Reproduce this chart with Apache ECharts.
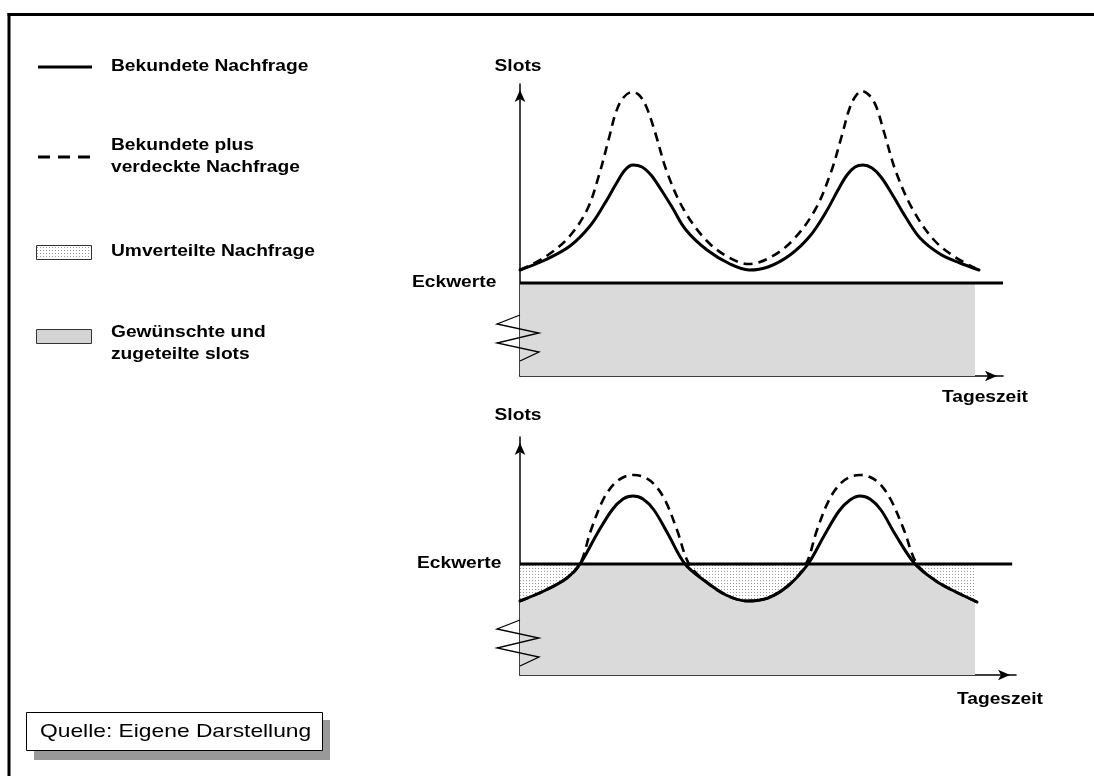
<!DOCTYPE html>
<html>
<head>
<meta charset="utf-8">
<script src="https://cdn.jsdelivr.net/npm/echarts@6/dist/echarts.min.js"></script>
<style>
html,body{margin:0;padding:0;background:#fff;}
#chart{width:1094px;height:776px;}
</style>
</head>
<body>
<div id="chart"></div>
<script>
// ---------------- DATA (schematic values) ----------------
// x = Tageszeit (0..100), y = Slots (schematic units)
const topSolid = [[0,53],[5.18,58],[10.35,65],[14.49,75],[17.6,86.5],[19.88,96],[21.74,103],[23.4,105.5],[25.26,104.5],[27.12,100.5],[28.99,94],[31.47,84.5],[34.37,73],[38.72,63],[43.48,56],[47.41,53],[51.35,54.5],[55.9,60.5],[60.04,70],[63.35,82],[65.84,93],[67.7,100.5],[69.36,104.5],[71.01,105.5],[72.88,104],[74.74,99.5],[77.02,91],[79.71,80],[82.82,69],[86.96,61],[91.1,56.5],[95.03,53]];
const topDashed = [[0,53],[5.18,59.5],[9.94,69],[13.87,83],[16.36,100.5],[18.43,119],[19.88,132],[21.33,139],[23.19,142],[24.64,140.5],[26.09,135],[27.95,122],[30.43,102],[33.95,83],[38.51,68],[43.06,59.5],[47.41,56],[51.97,59.5],[56.52,68],[61.08,83],[64.39,102],[66.67,120.5],[68.12,133],[69.36,139.5],[70.81,142.5],[72.26,140.5],[73.71,135],[75.36,122],[77.85,102],[81.37,83],[85.71,68],[90.06,59.5],[94.2,54]];
const bottomSolid = [[0,37],[5.38,42.5],[9.73,48.5],[12.42,55.5],[15.94,70.5],[19.05,82.5],[21.33,88],[23.4,89.5],[25.47,88],[27.74,82.5],[30.64,70.5],[34.16,55.5],[38.3,47],[42.65,40],[47.0,37],[51.35,38.5],[55.69,45],[59.63,55.5],[62.94,69.5],[66.05,82],[68.32,87.5],[70.39,89.5],[72.46,88],[74.74,82.5],[77.64,70.5],[81.78,55.5],[86.13,47],[89.44,42.5],[94.62,36.5]];
const bottomDashed = [[0,37],[5.38,42.5],[9.73,48.5],[12.42,55.5],[14.7,72.5],[17.18,87.5],[19.46,95.5],[21.53,99],[23.6,100],[25.67,99],[27.74,95.5],[30.02,87.5],[32.51,72.5],[34.99,55.5],[38.3,47],[42.65,40],[47.0,37],[51.35,38.5],[55.69,45],[59.21,55.5],[61.49,72.5],[63.98,87.5],[66.25,95.5],[68.32,99],[70.39,100],[72.46,99],[74.53,95.5],[76.81,87.5],[79.5,72.5],[82.19,55.5],[86.13,47],[89.44,42.5],[94.62,36.5]];
const eckwerteTop = 46.5;      // Eckwerte level, upper panel
const eckwerteBottom = 55.5;   // Eckwerte level, lower panel
const fillEnd = 94.2;          // end of allocated-slot area (Tageszeit)
const eckLineEndTop = 100;
const eckLineEndBottom = 101.9;
const topAxisMax = {x: 100, y: 146};
const bottomAxisMax = {x: 102.7, y: 119};

// text
const legendLabels = ['Bekundete Nachfrage', 'Bekundete plus\nverdeckte Nachfrage', 'Umverteilte Nachfrage', 'Gewünschte und\nzugeteilte slots'];
const yAxisName = 'Slots';
const xAxisName = 'Tageszeit';
const levelName = 'Eckwerte';
const sourceText = 'Quelle: Eigene Darstellung';

// ---------------- LAYOUT ----------------
const PXX = 4.83, PXY = 2;          // pixels per unit
const LEFT = 520;
const topBottomPx = 376, botBottomPx = 675;
const GRAY = '#dadada';
const FONT_B = 'bold 16px "Liberation Sans", Arial, sans-serif';
const SX = 1.2;

function dotCanvas() {
  const c = document.createElement('canvas');
  c.width = 3; c.height = 3;
  const g = c.getContext('2d');
  g.fillStyle = '#ffffff'; g.fillRect(0, 0, 3, 3);
  g.fillStyle = '#9a9a9a'; g.fillRect(1, 1, 1, 1);
  return c;
}
const dots = {image: dotCanvas(), repeat: 'repeat'};

const grids = [
  {left: LEFT, top: topBottomPx - topAxisMax.y * PXY, width: topAxisMax.x * PXX, height: topAxisMax.y * PXY},
  {left: LEFT, top: botBottomPx - bottomAxisMax.y * PXY, width: bottomAxisMax.x * PXX, height: bottomAxisMax.y * PXY},
  {left: LEFT, top: botBottomPx - eckwerteBottom * PXY, width: fillEnd * PXX, height: eckwerteBottom * PXY}
];

const axisLineShown = {
  show: true, onZero: false,
  symbol: ['none', 'arrow'], symbolSize: [8, 12], symbolOffset: [0, -6],
  lineStyle: {color: '#000', width: 1.5}
};
function mkAxis(idx, max, shown) {
  return {
    type: 'value', gridIndex: idx, min: 0, max: max,
    axisLine: shown ? axisLineShown : {show: false},
    axisTick: {show: false}, axisLabel: {show: false}, splitLine: {show: false}
  };
}

const solidStyle = {color: '#000', width: 3, cap: 'round', join: 'round'};
const dashStyle = {color: '#000', width: 2.6, type: [9, 6], cap: 'butt', join: 'round'};
const SM = 0.35;

const series = [
  // upper panel
  {type: 'line', xAxisIndex: 0, yAxisIndex: 0, data: [[0, eckwerteTop], [fillEnd, eckwerteTop]], symbol: 'none',
   lineStyle: {width: 0}, areaStyle: {color: GRAY, opacity: 1}, z: 1, silent: true},
  {type: 'line', xAxisIndex: 0, yAxisIndex: 0, data: [[0, eckwerteTop], [eckLineEndTop, eckwerteTop]], symbol: 'none',
   lineStyle: {color: '#000', width: 3}, z: 4},
  {type: 'line', xAxisIndex: 0, yAxisIndex: 0, data: topDashed, symbol: 'none', smooth: SM, lineStyle: dashStyle, z: 5},
  {type: 'line', xAxisIndex: 0, yAxisIndex: 0, data: topSolid, symbol: 'none', smooth: SM, lineStyle: solidStyle, z: 6},
  // lower panel fills (clipped at Eckwerte level)
  {type: 'line', xAxisIndex: 2, yAxisIndex: 2, data: [[0, eckwerteBottom], [fillEnd, eckwerteBottom]], symbol: 'none',
   lineStyle: {width: 0}, areaStyle: {color: dots, opacity: 1}, z: 1, silent: true},
  {type: 'line', xAxisIndex: 2, yAxisIndex: 2, data: bottomSolid, symbol: 'none', smooth: SM, clip: true,
   lineStyle: {width: 0, opacity: 0}, areaStyle: {color: GRAY, opacity: 1}, z: 2, silent: true},
  // lower panel lines
  {type: 'line', xAxisIndex: 1, yAxisIndex: 1, data: [[0, eckwerteBottom], [eckLineEndBottom, eckwerteBottom]], symbol: 'none',
   lineStyle: {color: '#000', width: 3}, z: 4},
  {type: 'line', xAxisIndex: 1, yAxisIndex: 1, data: bottomDashed, symbol: 'none', smooth: SM, lineStyle: dashStyle, z: 5},
  {type: 'line', xAxisIndex: 1, yAxisIndex: 1, data: bottomSolid, symbol: 'none', smooth: SM, lineStyle: solidStyle, z: 6}
];

function txt(text, x, y, opts) {
  opts = opts || {};
  return {
    type: 'text', x: x, y: y, scaleX: opts.sx || SX, z: 100,
    style: {text: text, font: opts.font || FONT_B, fill: '#000', align: opts.align || 'left',
            verticalAlign: 'middle', lineHeight: opts.lh || 22}
  };
}
function zigzag(y0) {
  const pts = [[520, 0], [497, 9], [539, 18], [497, 28], [539, 37], [520, 46]].map(p => [p[0], p[1] + y0]);
  return {type: 'polyline', shape: {points: pts}, style: {stroke: '#000', lineWidth: 1.3, fill: null}, z: 50};
}

const boxW = 296;
const graphic = [
  // frame
  {type: 'line', shape: {x1: 7.5, y1: 14.5, x2: 1094, y2: 14.5}, style: {stroke: '#000', lineWidth: 3}, z: 100},
  {type: 'line', shape: {x1: 9, y1: 13, x2: 9, y2: 776}, style: {stroke: '#000', lineWidth: 3}, z: 100},
  // legend symbols
  {type: 'line', shape: {x1: 38, y1: 67, x2: 92, y2: 67}, style: {stroke: '#000', lineWidth: 3}, z: 100},
  {type: 'line', shape: {x1: 38, y1: 157, x2: 92, y2: 157}, style: {stroke: '#000', lineWidth: 3, lineDash: [12, 8]}, z: 100},
  {type: 'rect', shape: {x: 36.5, y: 245.5, width: 55, height: 14}, style: {fill: dots, stroke: '#333', lineWidth: 1}, z: 100},
  {type: 'rect', shape: {x: 36.5, y: 329.5, width: 55, height: 14}, style: {fill: '#d4d4d4', stroke: '#333', lineWidth: 1}, z: 100},
  // legend texts
  txt(legendLabels[0], 111, 67),
  txt(legendLabels[1], 111, 157),
  txt(legendLabels[2], 111, 252),
  txt(legendLabels[3], 111, 344),
  // axis names
  txt(yAxisName, 518, 67, {align: 'center'}),
  txt(yAxisName, 518, 416, {align: 'center'}),
  txt(xAxisName, 1028, 398, {align: 'right'}),
  txt(xAxisName, 1043, 700, {align: 'right'}),
  txt(levelName, 412, 283),
  txt(levelName, 417, 564),
  // axis breaks
  zigzag(315),
  zigzag(620),
  // source box
  {type: 'rect', shape: {x: 34, y: 720, width: boxW, height: 40}, style: {fill: '#999'}, z: 90},
  {type: 'rect', shape: {x: 26.5, y: 712.5, width: boxW, height: 38}, style: {fill: '#fff', stroke: '#000', lineWidth: 1}, z: 95},
  txt(sourceText, 40, 732, {font: '19px "Liberation Sans", Arial, sans-serif'})
];

const chart = echarts.init(document.getElementById('chart'), null, {renderer: 'canvas'});
chart.setOption({
  animation: false,
  backgroundColor: '#fff',
  grid: grids,
  xAxis: [mkAxis(0, topAxisMax.x, true), mkAxis(1, bottomAxisMax.x, true), mkAxis(2, fillEnd, false)],
  yAxis: [mkAxis(0, topAxisMax.y, true), mkAxis(1, bottomAxisMax.y, true), mkAxis(2, eckwerteBottom, false)],
  series: series,
  graphic: graphic
});
</script>
</body>
</html>
